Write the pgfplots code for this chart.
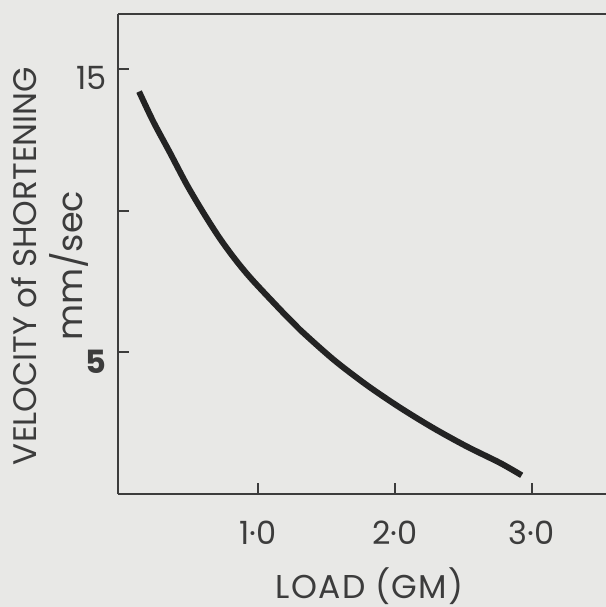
\documentclass[border=0pt]{standalone}
\usepackage{pgfplots}
\pgfplotsset{compat=1.18}
\usepackage{fontspec}
\setmainfont{Poppins}
\newfontfamily\spacedfont[LetterSpace=4]{Poppins}
\usetikzlibrary{backgrounds}
\definecolor{bg}{RGB}{232,232,230}
\definecolor{ink}{RGB}{60,60,60}
\definecolor{curve}{RGB}{35,35,35}
\begin{document}
\begin{tikzpicture}
\begin{axis}[
  scale only axis, width=244pt, height=240pt,
  xmin=-0.022, xmax=3.544, ymin=0, ymax=16.95,
  axis x line=box, axis y line=left,
  axis line style={-, ink, line width=1pt},
  xtick={1,2,3}, xticklabels={1·0,2·0,3·0},
  ytick={5,10,15}, yticklabels={\textbf{5},,15},
  xtick pos=left, ytick pos=left,
  tick align=inside, major tick length=5.5pt,
  tick style={ink, line width=1pt},
  xticklabel style={anchor=center, yshift=-19.5pt, font=\fontsize{16}{19}\selectfont, text=ink},
  yticklabel style={anchor=east, inner sep=0pt, xshift=-5.5pt, yshift=-4.5pt, font=\fontsize{16}{19}\selectfont, text=ink},
  clip=false,
]
\addplot[curve, line width=3pt, smooth, line cap=butt] coordinates {
(0.132,14.21) (0.236,13.15) (0.358,12.05) (0.480,10.93) (0.601,9.94)
(0.723,9.02) (0.845,8.22) (0.967,7.52) (1.211,6.27) (1.308,5.80)
(1.552,4.75) (1.795,3.85) (2.039,3.05) (2.282,2.33) (2.526,1.68)
(2.769,1.10) (2.928,0.66)
};
\coordinate (SW) at (rel axis cs:0,0);
\coordinate (NE) at (rel axis cs:1,1);
\coordinate (YL) at (rel axis cs:0,0.475);
\coordinate (XL) at (rel axis cs:0.516,0);
\end{axis}
\node[rotate=90, anchor=base, font=\fontsize{16.3}{19}\selectfont, text=ink] at ([xshift=-40.5pt]YL) {VELOCITY of SHORTENING};
\node[rotate=90, anchor=base, font=\fontsize{17.5}{21}\selectfont, text=ink] at ([xshift=-17.5pt]YL) {mm/sec};
\node[anchor=base, font=\spacedfont\fontsize{16.5}{19}\selectfont, text=ink] at ([yshift=-52pt]XL) {LOAD (GM)};
\pgfresetboundingbox
\path[use as bounding box] ([xshift=-59pt,yshift=-56.5pt]SW) rectangle ([yshift=7pt]NE);
\begin{scope}[on background layer]
\fill[bg] ([xshift=-59pt,yshift=-56.5pt]SW) rectangle ([yshift=7pt]NE);
\end{scope}
\end{tikzpicture}
\end{document}
